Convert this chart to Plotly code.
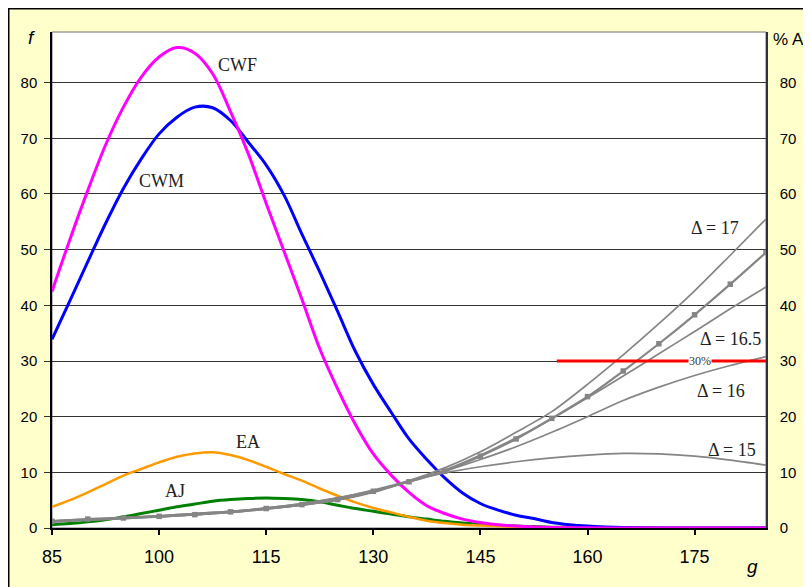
import plotly.graph_objects as go

# ---------------- data ----------------
g_main = [85, 87.5, 90, 92.5, 95, 97.5, 100, 102.5, 105, 107.5, 110, 112.5, 115, 117.5,
          120, 122.5, 125, 127.5, 130, 132.5, 135, 137.5, 140, 142.5, 145, 147.5, 150,
          152.5, 155, 157.5, 160, 162.5, 165, 167.5, 170, 172.5, 175, 177.5, 180, 182.5, 185]

cwf = [42.5, 51.8, 60.6, 68.8, 75.6, 81.0, 84.6, 86.3, 85.3, 81.6, 74.8, 67.2, 58.3, 49.7,
       41.1, 32.2, 25.0, 18.6, 13.3, 9.5, 6.4, 4.0, 2.6, 1.6, 1.0, 0.6, 0.35,
       0.2, 0.1, 0.05, 0.03, 0.02, 0.01, 0, 0, 0, 0, 0, 0, 0, 0]

cwm = [33.9, 40.8, 47.8, 54.7, 61.0, 66.3, 70.8, 73.8, 75.6, 75.5, 73.2, 69.3, 65.2, 59.8,
       52.8, 46.0, 38.9, 31.7, 25.8, 20.8, 16.0, 12.3, 9.0, 6.3, 4.4, 3.2, 2.3,
       1.7, 1.0, 0.6, 0.35, 0.2, 0.1, 0.05, 0.02, 0, 0, 0, 0, 0, 0]

ea = [3.8, 5.0, 6.4, 7.9, 9.4, 10.6, 11.8, 12.8, 13.4, 13.6, 13.1, 12.2, 11.0, 9.7,
      8.5, 7.1, 5.8, 4.6, 3.6, 2.8, 2.0, 1.3, 0.9, 0.6, 0.45, 0.3, 0.2,
      0.15, 0.1, 0.07, 0.05, 0.03, 0.02, 0.01, 0, 0, 0, 0, 0, 0, 0]

aj = [0.6, 0.8, 1.1, 1.5, 2.0, 2.6, 3.2, 3.8, 4.3, 4.8, 5.1, 5.3, 5.4, 5.3,
      5.1, 4.7, 4.1, 3.5, 3.0, 2.5, 2.0, 1.6, 1.2, 0.9, 0.7, 0.5, 0.35,
      0.25, 0.15, 0.1, 0.05, 0.03, 0.02, 0.01, 0, 0, 0, 0, 0, 0, 0]

g_pct = [85, 90, 95, 100, 105, 110, 115, 120, 125, 130, 135, 140, 145, 150, 155, 160,
         165, 170, 175, 180, 185]
aj_pct = [1.2, 1.6, 1.8, 2.1, 2.4, 2.9, 3.5, 4.2, 5.1, 6.6, 8.3, 10.2, 12.9, 16.0, 19.7,
          23.6, 28.2, 33.1, 38.3, 43.8, 49.5]
d17 = [1.3, 1.5, 1.8, 2.2, 2.6, 3.0, 3.6, 4.4, 5.4, 6.8, 8.5, 10.8, 13.7, 17.2, 20.9,
       25.8, 31.1, 36.7, 42.6, 49.0, 55.5]
d165 = [1.1, 1.4, 1.7, 2.0, 2.4, 2.8, 3.4, 4.1, 5.1, 6.5, 8.3, 10.4, 13.1, 16.2, 19.6,
        23.4, 27.3, 31.3, 35.3, 39.4, 43.3]
d16 = [1.3, 1.6, 1.9, 2.2, 2.6, 3.0, 3.6, 4.4, 5.4, 6.7, 8.3, 10.2, 12.3, 14.6, 17.2,
       20.0, 22.9, 25.3, 27.4, 29.2, 30.8]
d15 = [1.1, 1.4, 1.7, 2.0, 2.4, 2.8, 3.4, 4.1, 5.0, 6.4, 8.4, 9.9, 11.0, 11.9, 12.6,
       13.1, 13.4, 13.3, 12.9, 12.2, 11.3]

threshold_g = [155.7, 185]
threshold_pct = [30, 30]

x_ticks = [85, 100, 115, 130, 145, 160, 175]
y_ticks = [0, 10, 20, 30, 40, 50, 60, 70, 80]

# ---------------- figure ----------------
fig = go.Figure()

GRAY = "#858585"
for yv in (d15, d16, d165, d17):
    fig.add_trace(go.Scatter(x=g_pct, y=yv, mode="lines", yaxis="y2",
                             line=dict(color=GRAY, width=1.7, shape="spline", smoothing=0.8),
                             hoverinfo="skip", showlegend=False))
fig.add_trace(go.Scatter(x=g_pct, y=aj_pct, mode="lines+markers", yaxis="y2",
                         line=dict(color=GRAY, width=2.2, shape="spline", smoothing=0.8),
                         marker=dict(symbol="square", size=5.5, color=GRAY),
                         showlegend=False))

fig.add_trace(go.Scatter(x=g_main, y=aj, mode="lines",
                         line=dict(color="#008000", width=3, shape="spline"), showlegend=False))
fig.add_trace(go.Scatter(x=g_main, y=ea, mode="lines",
                         line=dict(color="#FF9900", width=2.5, shape="spline"), showlegend=False))
fig.add_trace(go.Scatter(x=g_main, y=cwm, mode="lines",
                         line=dict(color="#0000FF", width=3, shape="spline"), showlegend=False))
fig.add_trace(go.Scatter(x=g_main, y=cwf, mode="lines",
                         line=dict(color="#FF00FF", width=3, shape="spline"), showlegend=False))

fig.add_trace(go.Scatter(x=threshold_g, y=threshold_pct, mode="lines", yaxis="y2",
                         line=dict(color="#FF0000", width=3), showlegend=False))

YMAX = 89.1
serif = "Liberation Serif, Times New Roman, serif"
sans = "Liberation Sans, Arial, sans-serif"

W, H = 803, 579          # page has an 8px body margin
L, T = 44, 24
PW, PH = 714, 496

fig.update_layout(
    width=W, height=H,
    margin=dict(l=L, r=W - L - PW, t=T, b=H - T - PH, pad=0),
    paper_bgcolor="#FFFFCC",
    plot_bgcolor="white",
    xaxis=dict(range=[85, 185], tickvals=x_ticks, ticks="outside", ticklen=5,
               tickwidth=1.5, tickcolor="black", showgrid=False, zeroline=False,
               showline=True, linecolor="black", linewidth=2,
               tickfont=dict(family=sans, size=18, color="black"),
               ticklabelstandoff=6),
    yaxis=dict(range=[0, YMAX], tickvals=y_ticks, ticks="outside", ticklen=6,
               tickcolor="#333", showgrid=True, gridcolor="#333", gridwidth=1,
               zeroline=False, showline=True, linecolor="black", linewidth=1.5,
               tickfont=dict(family=sans, size=15, color="black"),
               ticklabelstandoff=4),
    yaxis2=dict(range=[0, YMAX], tickvals=y_ticks, overlaying="y", side="right",
                ticks="", showgrid=False, zeroline=False, showline=True,
                linecolor="#303040", linewidth=1.5,
                tickfont=dict(family=sans, size=15, color="black"),
                ticklabelstandoff=9),
    shapes=[
        # outer black border (left and top edges of the figure)
        dict(type="rect", xref="paper", yref="paper",
             x0=(0.75 - L) / PW, x1=(W + 20 - L) / PW,
             y0=-(H + 20 - T - PH) / PH, y1=(T + PH - 0.75) / PH,
             fillcolor="rgba(0,0,0,0)", line=dict(color="black", width=1.5), layer="below"),
        # plot-area frame
        dict(type="rect", xref="paper", yref="paper", x0=0, x1=1, y0=0, y1=1,
             fillcolor="rgba(0,0,0,0)", line=dict(color="#707070", width=1), layer="below"),
    ],
)

annots = [
    ("CWF", 111.0, 83.2), ("CWM", 100.4, 62.4), ("EA", 112.4, 15.4), ("AJ", 102.2, 6.6),
    ("Δ = 17", 177.9, 53.9), ("Δ = 16.5", 180.0, 34.0), ("Δ = 16", 178.7, 24.6),
    ("Δ = 15", 180.2, 14.1),
]
for txt, x, y in annots:
    fig.add_annotation(x=x, y=y, text=txt, showarrow=False,
                       xanchor="center", yanchor="middle",
                       font=dict(family=serif, size=18, color="#222"))

fig.add_annotation(x=175.8, y=30, yref="y2", text="30%", showarrow=False,
                   bgcolor="white", borderpad=0, xanchor="center", yanchor="middle",
                   font=dict(family=serif, size=12, color="#333"))

fig.add_annotation(xref="paper", yref="paper", x=(31.7 - 52) / PW, y=(528 - 37) / PH,
                   xanchor="center", yanchor="middle",
                   text="<i>f</i>", showarrow=False,
                   font=dict(family=sans, size=19, color="black"))
fig.add_annotation(xref="paper", yref="paper", x=(752 - 52) / PW, y=(528 - 566) / PH,
                   xanchor="center", yanchor="middle",
                   text="<i>g</i>", showarrow=False,
                   font=dict(family=sans, size=19, color="black"))
fig.add_annotation(xref="paper", yref="paper", x=(770.5 - 52) / PW, y=(528 - 40) / PH,
                   xanchor="left", yanchor="middle", text="% AJ", showarrow=False,
                   font=dict(family=sans, size=17, color="black"))

fig.write_html("out.html")
